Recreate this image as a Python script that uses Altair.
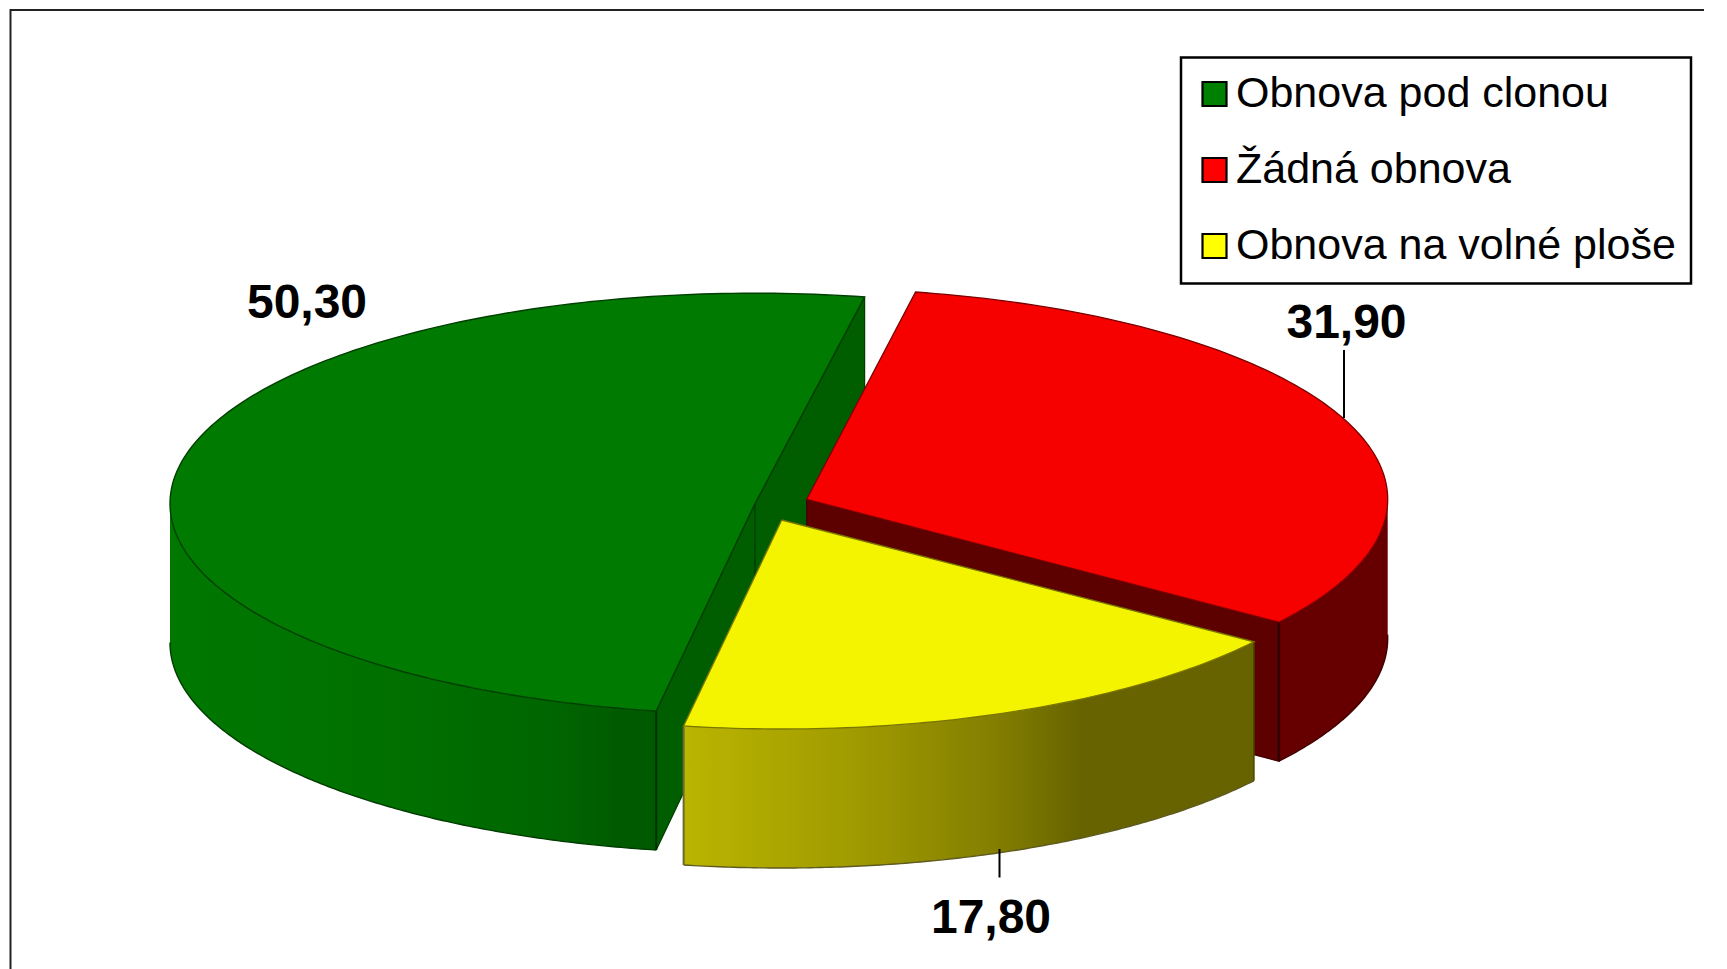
import math
import altair as alt
import pandas as pd

categories = ["Obnova pod clonou", "Žádná obnova", "Obnova na volné ploše"]
values = [50.30, 31.90, 17.80]
legend_colors = ["#008000", "#ff0000", "#ffff00"]

START = 10.8          # first angle of the pie, degrees clockwise from 12 o'clock
DEPTH = 139
W, H = 1696, 961
X0, Y0 = 8, 8
X_SCALE = alt.Scale(domain=[X0, X0 + W], nice=False, zero=False)
Y_SCALE = alt.Scale(domain=[Y0 + H, Y0], nice=False, zero=False)

# slice angles come from the values
deg = {c: v * 3.6 for c, v in zip(categories, values)}
red0 = START
red1 = red0 + deg["Žádná obnova"]
yel0 = red1
yel1 = yel0 + deg["Obnova na volné ploše"]
gre0 = yel1
gre1 = gre0 + deg["Obnova pod clonou"]

GREEN = dict(c=(755, 503.6), a=585, b=210.4)
RED = dict(c=(806.7, 499.3), a=581, b=211)
YEL = dict(c=(781.7, 520), a=581, b=209)


def pt(s, t):
    r = math.radians(t)
    return (s["c"][0] + s["a"] * math.sin(r), s["c"][1] - s["b"] * math.cos(r))


def arc(s, t0, t1, step=1.0):
    n = max(2, int(abs(t1 - t0) / step) + 1)
    return [pt(s, t0 + (t1 - t0) * i / (n - 1)) for i in range(n)]


def down(p, d=DEPTH):
    return (p[0], p[1] + d)


def enc(df):
    return alt.Chart(df).encode(
        x=alt.X("x:Q", scale=X_SCALE, axis=None),
        y=alt.Y("y:Q", scale=Y_SCALE, axis=None),
        order=alt.Order("i:Q"),
    )


def frame(points):
    return pd.DataFrame({"i": range(len(points)),
                         "x": [p[0] for p in points],
                         "y": [p[1] for p in points]})


def poly(points, fill, stroke, sw=1.4):
    pts = list(points) + [points[0]]
    return enc(frame(pts)).mark_line(fill=fill, stroke=stroke, strokeWidth=sw,
                                     strokeJoin="miter")


def line(points, stroke, sw=1.4):
    return enc(frame(points)).mark_line(stroke=stroke, strokeWidth=sw)


def wall(s, t0, t1, stops, stroke, d=DEPTH):
    pts = sorted(arc(s, t0, t1, 0.5), key=lambda p: p[0])
    df = pd.DataFrame({"x": [p[0] for p in pts],
                       "y": [p[1] for p in pts],
                       "y2": [p[1] + d for p in pts]})
    grad = alt.Gradient(
        gradient="linear", x1=0, x2=1, y1=0, y2=0,
        stops=[alt.GradientStop(offset=o, color=c) for o, c in stops],
    )
    area = alt.Chart(df).mark_area(fill=grad, stroke=None).encode(
        x=alt.X("x:Q", scale=X_SCALE, axis=None),
        y=alt.Y("y:Q", scale=Y_SCALE, axis=None),
        y2="y2:Q",
    )
    bottom = line([down(p, d) for p in pts], stroke, 1.4)
    return [area, bottom]


layers = []

# outer frame of the picture (only its top and left sides fall inside)
layers.append(line([(10.5, Y0 + H), (10.5, 10), (X0 + W, 10)], "#222222", 2))

# --- green slice
ga, gc = pt(GREEN, gre1), pt(GREEN, gre0)
gm = GREEN["c"]
layers.append(poly([ga, gm, gc, down(gc), down(gm), down(ga)], "#005e00", "#003c00", 1.2))
layers.append(line([gm, down(gm)], "#003c00", 1.4))
layers += wall(GREEN, 270, gre0,
               [(0, "#007800"), (0.5, "#006f00"), (0.8, "#006500"), (0.93, "#005a00"), (1, "#005a00")],
               "#003c00")
layers.append(line([gc, down(gc)], "#003000", 2))
layers.append(poly([gm] + arc(GREEN, gre0, gre1), "#007a00", "#003f00", 1.4))

# --- red slice
rc = pt(RED, red1)
rm = RED["c"]
layers.append(poly([rm, rc, down(rc), down(rm)], "#5c0000", "#400000", 1.2))
layers += wall(RED, 89, red1, [(0, "#660000"), (1, "#660000")], "#400000")
layers.append(line([rc, down(rc)], "#300000", 2.5))
layers.append(poly([rm] + arc(RED, red0, red1), "#f70000", "#7a0000", 1.3))

# --- yellow slice
yl, yr = pt(YEL, yel1), pt(YEL, yel0)
ym = YEL["c"]
layers += wall(YEL, yel0, yel1,
               [(0, "#bab500"), (0.3, "#a09b00"), (0.55, "#837e00"), (0.7, "#666300"), (1, "#666300")],
               "#5e5a20")
layers.append(line([yl, down(yl)], "#6b6830", 2))
layers.append(line([yr, down(yr)], "#4a4800", 1.6))
layers.append(poly([ym] + arc(YEL, yel0, yel1), "#f4f400", "#7a7600", 1.3))

# --- leader lines
layers.append(line([(1344, 350), (1344, 418)], "#000000", 2))
layers.append(line([(999.5, 849), (999.5, 877.5)], "#000000", 2))

# --- data labels
label_text = [f"{v:.2f}".replace(".", ",") for v in values]
labels = pd.DataFrame({"t": label_text, "x": [307, 1346.5, 991], "y": [318, 338, 933]})
layers.append(
    alt.Chart(labels).mark_text(
        font="Liberation Sans", fontSize=48, fontWeight="bold", color="black",
        align="center", baseline="alphabetic",
    ).encode(
        x=alt.X("x:Q", scale=X_SCALE, axis=None),
        y=alt.Y("y:Q", scale=Y_SCALE, axis=None),
        text="t:N",
    )
)

# --- legend
legend_df = pd.DataFrame({"cat": categories, "x": [755] * 3, "y": [503.6] * 3})
layers.append(
    alt.Chart(legend_df).mark_square(size=0, opacity=1).encode(
        x=alt.X("x:Q", scale=X_SCALE, axis=None),
        y=alt.Y("y:Q", scale=Y_SCALE, axis=None),
        color=alt.Color(
            "cat:N",
            scale=alt.Scale(domain=categories, range=legend_colors),
            legend=alt.Legend(
                title=None, orient="none", legendX=1173, legendY=49.5,
                fillColor="white", strokeColor="black", padding=15,
                symbolType="square", symbolSize=576, symbolStrokeColor="black",
                symbolStrokeWidth=2.2, symbolOpacity=1, symbolOffset=-3,
                labelFont="Liberation Sans", labelFontSize=43, labelColor="black",
                labelOffset=0, rowPadding=32, labelLimit=600,
            ),
        ),
    )
)

chart = (
    alt.layer(*layers)
    .properties(width=W, height=H, padding=0, background="white",
                autosize=alt.AutoSizeParams(type="none"))
    .configure_view(stroke=None)
    .configure_legend(strokeWidth=2.5)
)

chart.save("out.html", embed_options={"renderer": "svg", "actions": False})
